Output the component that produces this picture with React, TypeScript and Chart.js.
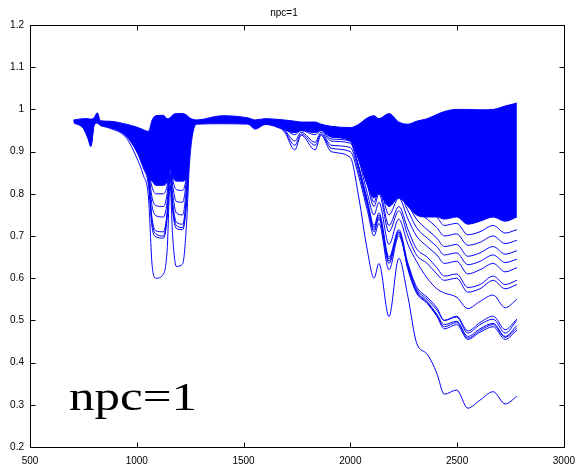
import React, { useEffect, useRef } from 'react';
import { Chart, registerables } from 'chart.js';

Chart.register(...registerables);

const TITLE = 'npc=1';
const ANNOTATION = 'npc=1';
const BLUE = 'rgb(0,0,255)';

const X_MIN = 500;
const X_MAX = 3000;
const X_STEP = 500;
const Y_MIN = 0.2;
const Y_MAX = 1.2;
const Y_STEP = 0.1;

// wavenumber grid for full-length spectra
const X_FULL = [
  705, 750, 772, 785, 800, 815, 830, 870, 950, 1000,
  1030, 1055, 1072, 1090, 1125, 1142, 1156, 1168, 1185, 1215,
  1232, 1248, 1280, 1400, 1520, 1555, 1600, 1690, 1740, 1770,
  1835, 1863, 1910, 2000, 2040, 2080, 2111, 2134, 2181, 2227,
  2270, 2310, 2360, 2405, 2440, 2498, 2550, 2607, 2669, 2725,
  2780,
];

// grid for spectra that only separate from the bundle on the right
const X_RIGHT = [
  1910, 2000, 2040, 2080, 2111, 2134, 2181, 2227, 2270, 2310,
  2360, 2405, 2440, 2498, 2550, 2607, 2669, 2725, 2780,
];

// upper edge of the dense bundle of spectra
const BUNDLE_TOP = [
  0.975, 0.978, 0.978, 0.977, 0.98, 0.992, 0.973, 0.972, 0.965, 0.958,
  0.952, 0.948, 0.975, 0.985, 0.986, 0.978, 0.98, 0.987, 0.99, 0.99,
  0.987, 0.98, 0.975, 0.985, 0.98, 0.975, 0.978, 0.975, 0.972, 0.97,
  0.97, 0.965, 0.96, 0.957, 0.965, 0.98, 0.985, 0.978, 0.99, 0.97,
  0.965, 0.972, 0.978, 0.988, 0.995, 1.0, 1.0, 0.999, 1.0, 1.008,
  1.015,
];

// lower edge of the dense bundle of spectra
const BUNDLE_BOTTOM = [
  0.968, 0.955, 0.932, 0.913, 0.963, 0.968, 0.962, 0.958, 0.937, 0.9,
  0.865, 0.84, 0.83, 0.82, 0.82, 0.83, 0.86, 0.84, 0.83, 0.83,
  0.84, 0.915, 0.967, 0.968, 0.967, 0.955, 0.965, 0.952, 0.945, 0.95,
  0.945, 0.95, 0.935, 0.925, 0.88, 0.82, 0.79, 0.8, 0.77, 0.79,
  0.77, 0.75, 0.745, 0.745, 0.74, 0.745, 0.728, 0.735, 0.745, 0.735,
  0.745,
];

const SPEC_1 = [
  0.97, 0.955, 0.93, 0.912, 0.962, 0.968, 0.962, 0.956, 0.933, 0.885,
  0.845, 0.79, 0.63, 0.6, 0.61, 0.665, 0.82, 0.7, 0.628, 0.634,
  0.72, 0.88, 0.965, 0.966, 0.965, 0.953, 0.964, 0.948, 0.904, 0.939,
  0.904, 0.939, 0.9, 0.886, 0.79, 0.665, 0.6, 0.635, 0.509, 0.647,
  0.555, 0.447, 0.42, 0.375, 0.325, 0.335, 0.292, 0.311, 0.331, 0.302,
  0.32,
];
const SPEC_2 = [
  0.971, 0.957, 0.935, 0.92, 0.964, 0.97, 0.964, 0.958, 0.938, 0.9,
  0.862, 0.82, 0.72, 0.698, 0.695, 0.74, 0.84, 0.76, 0.718, 0.715,
  0.77, 0.9, 0.966, 0.968, 0.967, 0.956, 0.965, 0.95, 0.915, 0.942,
  0.915, 0.942, 0.908, 0.9, 0.84, 0.76, 0.7, 0.73, 0.62, 0.7,
  0.63, 0.575, 0.55, 0.525, 0.5, 0.508, 0.47, 0.49, 0.503, 0.47,
  0.5,
];
const SPEC_3 = [
  0.972, 0.96, 0.94, 0.93, 0.966, 0.972, 0.965, 0.96, 0.942, 0.905,
  0.87, 0.83, 0.73, 0.705, 0.7, 0.75, 0.845, 0.77, 0.725, 0.72,
  0.78, 0.905, 0.967, 0.969, 0.968, 0.957, 0.966, 0.952, 0.925, 0.946,
  0.922, 0.946, 0.915, 0.91, 0.85, 0.77, 0.71, 0.74, 0.635, 0.705,
  0.625, 0.57, 0.545, 0.515, 0.49, 0.498, 0.462, 0.48, 0.493, 0.462,
  0.488,
];
const SPEC_4 = [
  0.973, 0.962, 0.945, 0.935, 0.967, 0.974, 0.966, 0.961, 0.944, 0.91,
  0.875, 0.835, 0.74, 0.712, 0.71, 0.755, 0.85, 0.78, 0.733, 0.728,
  0.79, 0.91, 0.968, 0.97, 0.969, 0.958, 0.967, 0.954, 0.94, 0.95,
  0.94, 0.95, 0.925, 0.92, 0.86, 0.78, 0.72, 0.75, 0.645, 0.71,
  0.62, 0.565, 0.54, 0.51, 0.48, 0.49, 0.455, 0.472, 0.485, 0.455,
  0.477,
];
const SPEC_5 = [
  0.973, 0.963, 0.948, 0.94, 0.968, 0.975, 0.967, 0.962, 0.946, 0.915,
  0.88, 0.845, 0.77, 0.748, 0.745, 0.78, 0.86, 0.8, 0.755, 0.75,
  0.81, 0.915, 0.968, 0.97, 0.969, 0.958, 0.967, 0.955, 0.945, 0.952,
  0.945, 0.952, 0.93, 0.925, 0.865, 0.785, 0.725, 0.755, 0.65, 0.715,
  0.635, 0.58, 0.555, 0.53, 0.5, 0.51, 0.475, 0.495, 0.51, 0.478,
  0.503,
];
const SPEC_6 = [
  0.974, 0.964, 0.95, 0.945, 0.969, 0.976, 0.968, 0.963, 0.948, 0.918,
  0.885, 0.85, 0.79, 0.772, 0.77, 0.8, 0.87, 0.82, 0.782, 0.78,
  0.83, 0.92, 0.969, 0.971, 0.97, 0.959, 0.968, 0.956, 0.947, 0.953,
  0.947, 0.953, 0.935, 0.935, 0.88, 0.8, 0.75, 0.78, 0.68, 0.74,
  0.68, 0.64, 0.6, 0.575, 0.565, 0.555, 0.528, 0.545, 0.56, 0.53,
  0.55,
];
const SPEC_7 = [
  0.974, 0.965, 0.952, 0.948, 0.97, 0.977, 0.968, 0.964, 0.95, 0.92,
  0.888, 0.855, 0.815, 0.8, 0.8, 0.82, 0.875, 0.835, 0.81, 0.808,
  0.84, 0.925, 0.969, 0.971, 0.97, 0.959, 0.968, 0.956, 0.948, 0.954,
  0.948, 0.954, 0.938, 0.94, 0.89, 0.82, 0.77, 0.8, 0.71, 0.76,
  0.7, 0.655, 0.635, 0.61, 0.595, 0.6, 0.567, 0.575, 0.595, 0.575,
  0.585,
];

const SPEC_R1 = [0.935, 0.925, 0.86, 0.775, 0.715, 0.745, 0.64, 0.71, 0.625, 0.568, 0.542, 0.512, 0.485, 0.495, 0.458, 0.476, 0.49, 0.46, 0.482];
const SPEC_R2 = [0.94, 0.94, 0.895, 0.83, 0.78, 0.81, 0.725, 0.77, 0.715, 0.67, 0.65, 0.625, 0.605, 0.61, 0.578, 0.585, 0.605, 0.585, 0.595];
const SPEC_R3 = [0.945, 0.945, 0.9, 0.84, 0.8, 0.82, 0.75, 0.79, 0.74, 0.7, 0.675, 0.655, 0.635, 0.64, 0.61, 0.62, 0.635, 0.615, 0.625];
const SPEC_R4 = [0.945, 0.945, 0.905, 0.85, 0.815, 0.835, 0.77, 0.8, 0.76, 0.72, 0.695, 0.675, 0.655, 0.66, 0.632, 0.64, 0.655, 0.637, 0.645];
const SPEC_R5 = [0.948, 0.95, 0.91, 0.86, 0.83, 0.845, 0.785, 0.815, 0.775, 0.74, 0.715, 0.695, 0.675, 0.68, 0.652, 0.66, 0.675, 0.657, 0.665];
const SPEC_R6 = [0.948, 0.95, 0.915, 0.87, 0.845, 0.86, 0.8, 0.83, 0.79, 0.76, 0.74, 0.72, 0.7, 0.705, 0.678, 0.685, 0.7, 0.682, 0.69];
const SPEC_R7 = [0.95, 0.95, 0.92, 0.88, 0.86, 0.87, 0.82, 0.845, 0.81, 0.78, 0.765, 0.745, 0.725, 0.73, 0.703, 0.71, 0.725, 0.707, 0.715];

const FULL_SPECTRA = [SPEC_1, SPEC_2, SPEC_3, SPEC_4, SPEC_5, SPEC_6, SPEC_7];
const RIGHT_SPECTRA = [SPEC_R1, SPEC_R2, SPEC_R3, SPEC_R4, SPEC_R5, SPEC_R6, SPEC_R7];

const zip = (xs: number[], ys: number[]) => xs.map((x, i) => ({ x, y: ys[i] }));

const lineDataset = (label: string, xs: number[], ys: number[]) => ({
  label,
  data: zip(xs, ys),
  borderColor: BLUE,
  borderWidth: 1,
  pointRadius: 0,
  cubicInterpolationMode: 'monotone',
  fill: false,
});

const fmt = (v: number) => String(Math.round(Number(v) * 10) / 10);

export default function App() {
  const ref = useRef<HTMLCanvasElement | null>(null);

  useEffect(() => {
    document.body.style.margin = '0';
    const canvas = ref.current;
    if (!canvas) return;

    const framePlugin = {
      id: 'matlabFrame',
      afterDatasetsDraw(chart: any) {
        const { ctx, chartArea: a, scales } = chart;
        const xs = scales.x;
        const ys = scales.y;
        ctx.save();
        ctx.strokeStyle = '#000';
        ctx.lineWidth = 1;
        const L = Math.round(a.left) + 0.5;
        const R = Math.round(a.right) + 0.5;
        const T = Math.round(a.top) + 0.5;
        const B = Math.round(a.bottom) + 0.5;
        ctx.strokeRect(L, T, R - L, B - T);
        ctx.beginPath();
        const tl = 5;
        xs.ticks.forEach((t: any) => {
          const px = Math.round(xs.getPixelForValue(t.value)) + 0.5;
          ctx.moveTo(px, B);
          ctx.lineTo(px, B - tl);
          ctx.moveTo(px, T);
          ctx.lineTo(px, T + tl);
        });
        ys.ticks.forEach((t: any) => {
          const py = Math.round(ys.getPixelForValue(t.value)) + 0.5;
          ctx.moveTo(L, py);
          ctx.lineTo(L + tl, py);
          ctx.moveTo(R, py);
          ctx.lineTo(R - tl, py);
        });
        ctx.stroke();

        // large annotation in the lower-left of the axes
        ctx.fillStyle = '#000';
        ctx.font = '41px "Liberation Serif", "Times New Roman", serif';
        ctx.textAlign = 'left';
        ctx.textBaseline = 'alphabetic';
        const w = ctx.measureText(ANNOTATION).width;
        const sx = 128 / w;
        ctx.translate(69, 410);
        ctx.scale(sx, 1);
        ctx.fillText(ANNOTATION, 0, 0);
        ctx.restore();
      },
    };

    const datasets: any[] = [
      {
        label: 'bundle top',
        data: zip(X_FULL, BUNDLE_TOP),
        borderColor: BLUE,
        backgroundColor: BLUE,
        borderWidth: 1,
        pointRadius: 0,
        cubicInterpolationMode: 'monotone',
        fill: '+1',
      },
      {
        label: 'bundle bottom',
        data: zip(X_FULL, BUNDLE_BOTTOM),
        borderColor: BLUE,
        borderWidth: 1,
        pointRadius: 0,
        cubicInterpolationMode: 'monotone',
        fill: false,
      },
      ...FULL_SPECTRA.map((s, i) => lineDataset('spectrum ' + (i + 1), X_FULL, s)),
      ...RIGHT_SPECTRA.map((s, i) => lineDataset('spectrum r' + (i + 1), X_RIGHT, s)),
    ];

    const chart = new Chart(canvas, {
      type: 'line',
      data: { datasets },
      plugins: [framePlugin],
      options: {
        animation: false,
        responsive: false,
        devicePixelRatio: 1,
        layout: { padding: { left: 0, right: 15, top: 0, bottom: 0 } },
        plugins: {
          legend: { display: false },
          tooltip: { enabled: false },
          title: {
            display: true,
            text: TITLE,
            color: '#000',
            font: { family: '"Liberation Sans", Arial, sans-serif', size: 10, weight: 'normal' },
            padding: { top: 7, bottom: 6 },
          },
        },
        scales: {
          x: {
            type: 'linear',
            min: X_MIN,
            max: X_MAX,
            grid: { display: false, drawTicks: false },
            border: { display: false },
            ticks: {
              stepSize: X_STEP,
              padding: 8,
              color: '#000',
              font: { family: '"Liberation Sans", Arial, sans-serif', size: 10 },
              maxRotation: 0,
              callback: (v: any) => fmt(v),
            },
            afterFit: (s: any) => {
              s.height = 24;
            },
          },
          y: {
            type: 'linear',
            min: Y_MIN,
            max: Y_MAX,
            grid: { display: false, drawTicks: false },
            border: { display: false },
            ticks: {
              stepSize: Y_STEP,
              padding: 6,
              color: '#000',
              font: { family: '"Liberation Sans", Arial, sans-serif', size: 10 },
              callback: (v: any) => fmt(v),
            },
            afterFit: (s: any) => {
              s.width = 30;
            },
          },
        },
      },
    } as any);

    return () => {
      chart.destroy();
    };
  }, []);

  return (
    <div style={{ width: 583, height: 471, background: '#fff' }}>
      <canvas ref={ref} width={583} height={471} style={{ display: 'block' }} />
    </div>
  );
}
